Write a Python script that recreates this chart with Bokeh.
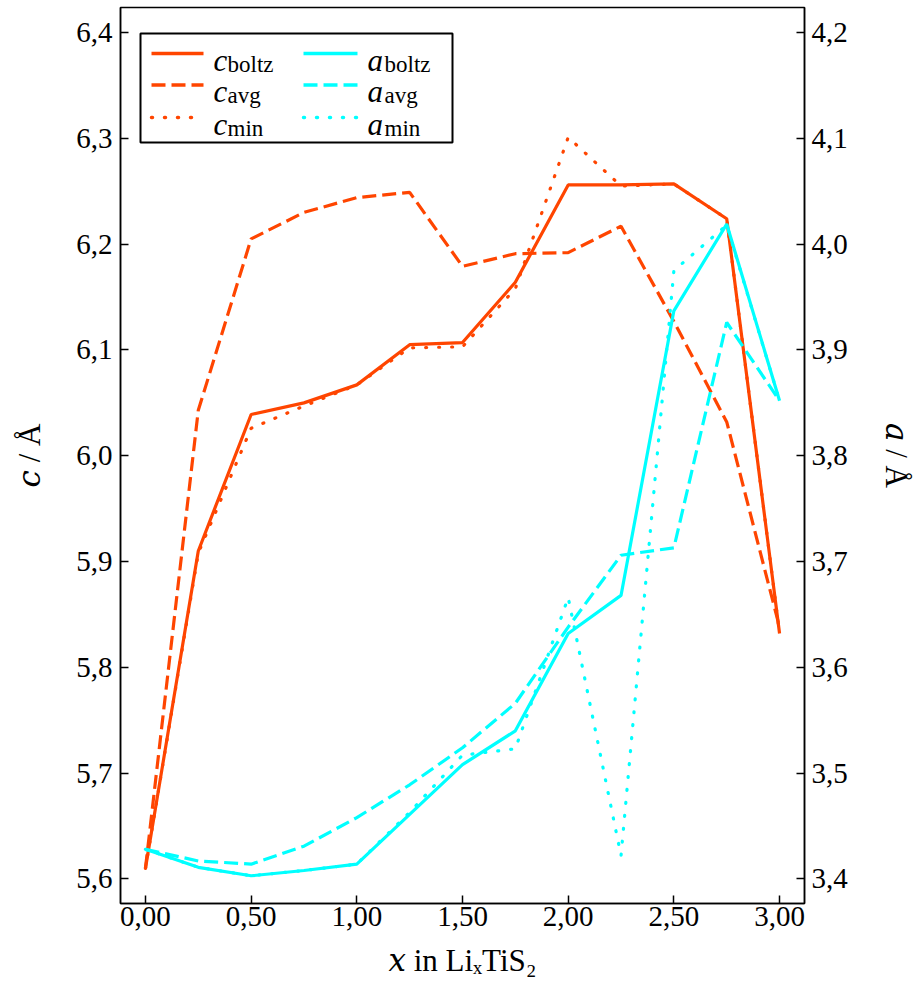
from bokeh.plotting import figure
from bokeh.models import (Range1d, LinearAxis, FixedTicker, CustomJSTickFormatter,
                          Label, BoxAnnotation, Arrow)
from bokeh.embed import file_html
from bokeh.resources import INLINE

# ---------------- data ----------------
x = [0.0, 0.25, 0.5, 0.75, 1.0, 1.25, 1.5, 1.75, 2.0, 2.25, 2.5, 2.75, 3.0]
c_boltz = [5.610, 5.910, 6.039, 6.050, 6.067, 6.105, 6.107, 6.164, 6.256, 6.256, 6.257, 6.224, 5.832]
c_avg = [5.610, 6.043, 6.205, 6.230, 6.244, 6.249, 6.179, 6.191, 6.192, 6.217, 6.127, 6.032, 5.838]
c_min = [5.610, 5.908, 6.026, 6.047, 6.067, 6.102, 6.103, 6.158, 6.301, 6.255, 6.257, 6.224, 5.832]
a_boltz = [3.428, 3.411, 3.403, 3.408, 3.414, 3.461, 3.508, 3.540, 3.632, 3.668, 3.937, 4.019, 3.852]
a_avg = [3.428, 3.417, 3.414, 3.431, 3.458, 3.489, 3.524, 3.566, 3.638, 3.706, 3.713, 3.926, 3.852]
a_min = [3.428, 3.411, 3.403, 3.408, 3.414, 3.463, 3.517, 3.523, 3.666, 3.422, 3.975, 4.018, 3.852]

x_ticks = [0.0, 0.5, 1.0, 1.5, 2.0, 2.5, 3.0]
c_ticks = [5.6, 5.7, 5.8, 5.9, 6.0, 6.1, 6.2, 6.3, 6.4]
a_ticks = [3.4, 3.5, 3.6, 3.7, 3.8, 3.9, 4.0, 4.1, 4.2]

x_label = "\U0001D465 in Li\u2093TiS\u2082"
c_label = "\U0001D450 / Å"
a_label = "\U0001D44E / Å"

X_RANGE = (-0.118, 3.118)
C_RANGE = (5.5768, 6.4237)
A_RANGE = (3.3768, 4.2237)

ORANGE = "#FF4500"
CYAN = "#00FFFF"
FONT = "Liberation Serif"
LABEL_FONT = "Liberation Serif, DejaVu Serif"
TICK_SIZE = "29px"
LABEL_SIZE = "31px"

W, H = 916, 981
LEFT, RIGHT, TOP, BOTTOM = 120, 111, 7, 78

p = figure(width=W, height=H, output_backend="svg", toolbar_location=None,
           x_range=Range1d(*X_RANGE), y_range=Range1d(*C_RANGE),
           min_border_left=LEFT, min_border_right=RIGHT,
           min_border_top=TOP, min_border_bottom=BOTTOM)
p.title.visible = False
p.extra_y_ranges = {"a": Range1d(*A_RANGE)}
p.grid.visible = False
p.outline_line_color = "black"
p.outline_line_width = 1.5
p.background_fill_color = "white"
p.border_fill_color = "white"

def style_axis(ax, standoff, label, label_standoff):
    ax.axis_line_width = 1.5
    ax.axis_line_color = "black"
    ax.major_tick_in = 8
    ax.major_tick_out = 0
    ax.major_tick_line_width = 1.5
    ax.minor_tick_line_color = None
    ax.major_label_text_font = FONT
    ax.major_label_text_font_size = TICK_SIZE
    ax.major_label_text_color = "black"
    ax.major_label_standoff = standoff
    ax.axis_label = label
    ax.axis_label_text_font = LABEL_FONT
    ax.axis_label_text_font_size = LABEL_SIZE
    ax.axis_label_text_font_style = "normal"
    ax.axis_label_text_color = "black"
    ax.axis_label_standoff = label_standoff

p.xaxis.ticker = FixedTicker(ticks=x_ticks)
p.xaxis.formatter = CustomJSTickFormatter(code="return tick.toFixed(2).replace('.', ',');")
style_axis(p.xaxis[0], 3, x_label, 14)

p.yaxis.ticker = FixedTicker(ticks=c_ticks)
p.yaxis.formatter = CustomJSTickFormatter(code="return tick.toFixed(1).replace('.', ',');")
style_axis(p.yaxis[0], 8, c_label, 26)

ra = LinearAxis(y_range_name="a", ticker=FixedTicker(ticks=a_ticks),
                formatter=CustomJSTickFormatter(code="return tick.toFixed(1).replace('.', ',');"))
style_axis(ra, 7, a_label, 28)
p.add_layout(ra, "right")

LW = 3.2
DASH = "14 6"
DOT = "1 12"

p.line(x, c_boltz, line_color=ORANGE, line_width=LW)
p.line(x, c_avg, line_color=ORANGE, line_width=LW, line_dash=DASH)
p.line(x, c_min, line_color=ORANGE, line_width=LW, line_dash=DOT, line_cap="round")
p.line(x, a_boltz, line_color=CYAN, line_width=LW, y_range_name="a")
p.line(x, a_avg, line_color=CYAN, line_width=LW, line_dash=DASH, y_range_name="a")
p.line(x, a_min, line_color=CYAN, line_width=LW, line_dash=DOT, line_cap="round", y_range_name="a")

# ---------- helpers for screen placement (page px -> frame-relative screen units)
FL = LEFT
FB = H - BOTTOM
def sx(px):
    return px - FL
def sy(py):
    return FB - py

def lab(text, px, py, size, italic=False):
    p.add_layout(Label(x=sx(px), y=sy(py), x_units="screen", y_units="screen",
                       text=text, text_font=FONT, text_font_size=size,
                       text_font_style="italic" if italic else "normal",
                       text_color="black", text_align="left", text_baseline="alphabetic"))

# ---------------- legend ----------------
p.add_layout(BoxAnnotation(left=sx(140), right=sx(452), top=sy(33), bottom=sy(142),
                           left_units="screen", right_units="screen",
                           top_units="screen", bottom_units="screen",
                           fill_color="white", fill_alpha=1.0,
                           line_color="black", line_alpha=1.0, line_width=2))

rows = [53, 84.5, 117]
names = ["boltz", "avg", "min"]
dashes = ["solid", DASH, DOT]
caps = ["butt", "butt", "round"]
cols = [(151, 203, 213, 227, "c", ORANGE), (303, 357, 367, 384, "a", CYAN)]
for (x0, x1, tx, sxp, sym, col) in cols:
    for ry, nm, ds, cp in zip(rows, names, dashes, caps):
        p.add_layout(Arrow(x_start=sx(x0), y_start=sy(ry), x_end=sx(x1), y_end=sy(ry),
                           start_units="screen", end_units="screen", start=None, end=None,
                           line_color=col, line_width=3.5, line_dash=ds, line_cap=cp))
        lab(sym, tx, ry + 6.5, "31px", italic=True)
        lab(nm, sxp, ry + 10.5, "23px")

open("out.html", "w").write(file_html(p, INLINE))
